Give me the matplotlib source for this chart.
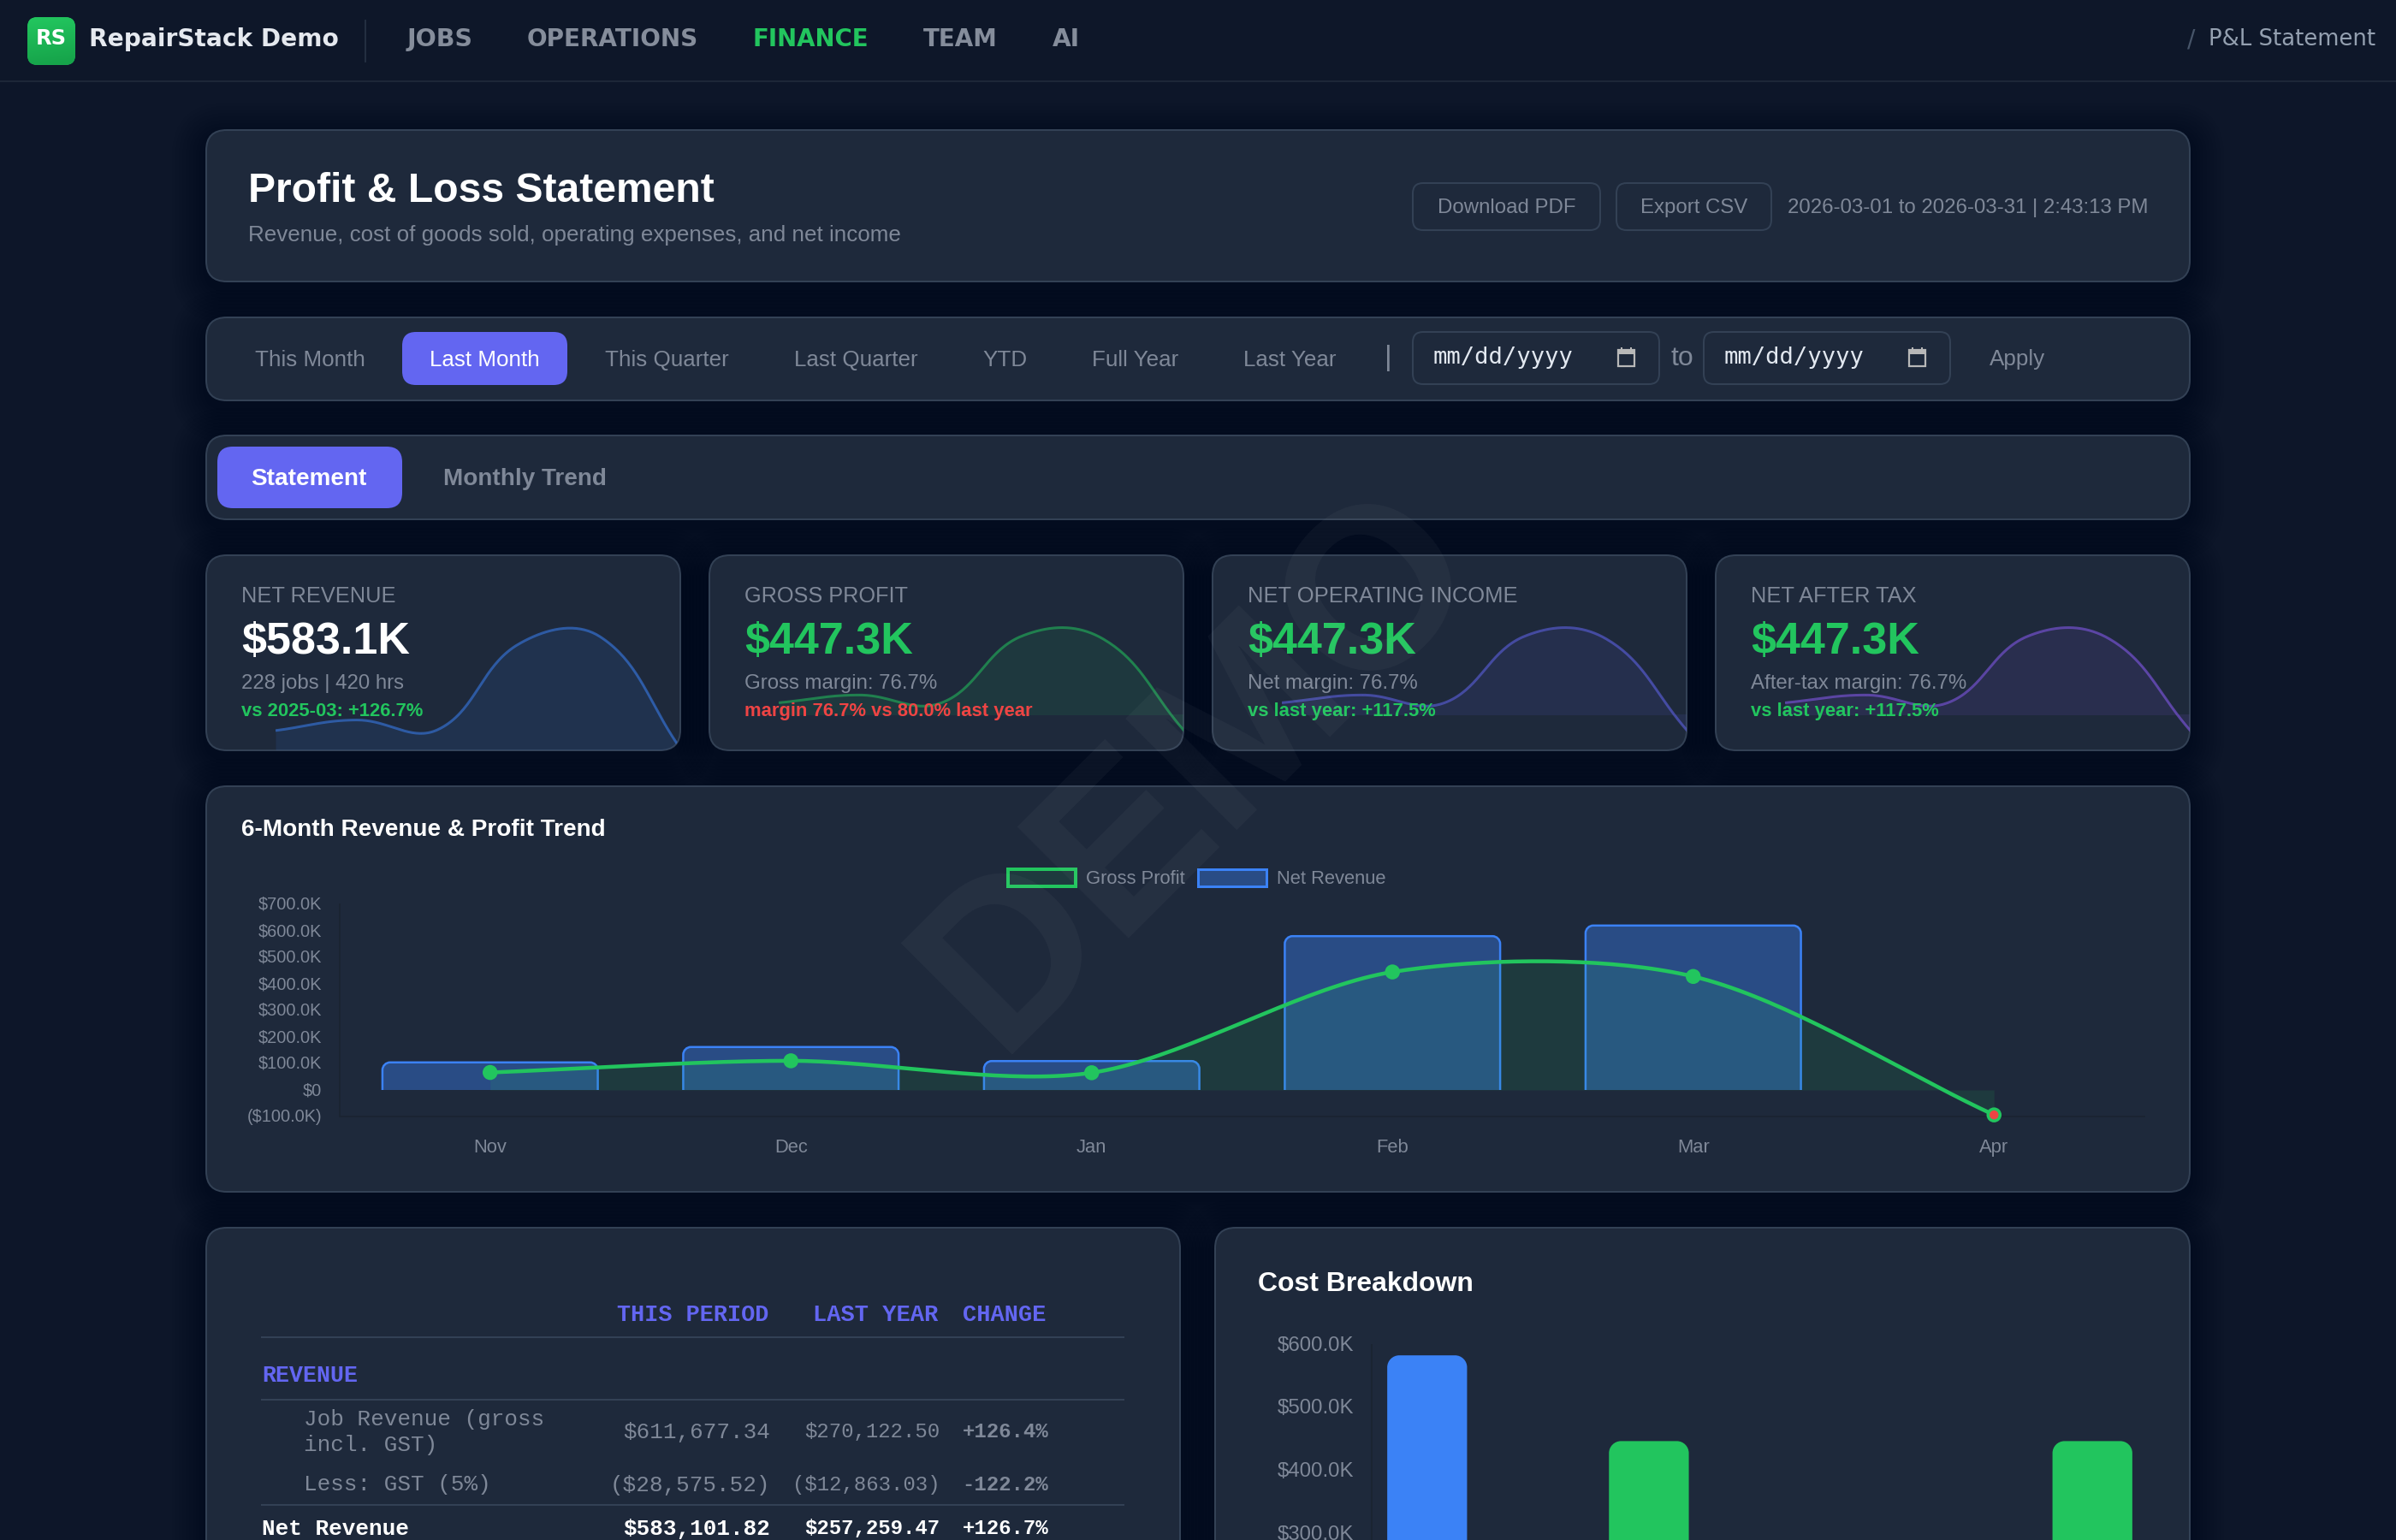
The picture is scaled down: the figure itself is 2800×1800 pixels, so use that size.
import numpy as np
import matplotlib
matplotlib.use("Agg")
import matplotlib.pyplot as plt
from matplotlib.patches import FancyBboxPatch, Rectangle, PathPatch, Patch
from matplotlib.path import Path
from matplotlib.colors import to_rgba, LinearSegmentedColormap
from matplotlib.transforms import ScaledTranslation

plt.rcParams['font.family'] = ['Liberation Sans', 'DejaVu Sans']

# ---------- data ----------
months = ['Nov', 'Dec', 'Jan', 'Feb', 'Mar', 'Apr']
net_revenue = [104, 162, 109, 580, 620, 0]
gross_profit = [66, 110, 65, 445, 428, -94]
trend_ticks = [-100, 0, 100, 200, 300, 400, 500, 600, 700]

cost_labels = ['Net Revenue', 'Gross Profit', 'Operating Expenses', 'Net Income']
cost_values = [583.1, 447.3, 0, 447.3]
cost_ticks = [300, 400, 500, 600]

kpi_labels = ['NET REVENUE', 'GROSS PROFIT', 'NET OPERATING INCOME', 'NET AFTER TAX']
kpi_values = ['$583.1K', '$447.3K', '$447.3K', '$447.3K']
kpi_subs = ['228 jobs | 420 hrs', 'Gross margin: 76.7%', 'Net margin: 76.7%', 'After-tax margin: 76.7%']
kpi_notes = ['vs 2025-03: +126.7%', 'margin 76.7% vs 80.0% last year', 'vs last year: +117.5%', 'vs last year: +117.5%']

nav_items = ['JOBS', 'OPERATIONS', 'FINANCE', 'TEAM', 'AI']
periods = ['This Month', 'Last Month', 'This Quarter', 'Last Quarter', 'YTD', 'Full Year', 'Last Year']

table_head = ['THIS PERIOD', 'LAST YEAR', 'CHANGE']
table_job = ['$611,677.34', '$270,122.50', '+126.4%']
table_gst = ['($28,575.52)', '($12,863.03)', '-122.2%']
table_net = ['$583,101.82', '$257,259.47', '+126.7%']

# ---------- palette ----------
BG = '#0d1629'
PANEL = '#1e293b'
BORDER = '#334155'
MUTED = '#7f8898'
GREEN = '#22c55e'
BLUE = '#3b82f6'
INDIGO = '#6366f1'
VIOLET = '#8b5cf6'
RED = '#ef4444'
AXIS = '#1a2432'
SANS = ['Liberation Sans', 'DejaVu Sans']
DJ = ['DejaVu Sans']
MONO = ['Liberation Mono', 'DejaVu Sans Mono']

W, H = 2800, 1800
fig = plt.figure(figsize=(W / 100, H / 100), dpi=100, facecolor=BG)
renderer = fig.canvas.get_renderer()


def px_axes(zorder):
    a = fig.add_axes([0, 0, 1, 1], zorder=zorder)
    a.set_xlim(0, W)
    a.set_ylim(H, 0)
    a.axis('off')
    a.patch.set_alpha(0)
    return a


def box_axes(x0, y0, x1, y1, zorder=2):
    a = fig.add_axes([x0 / W, 1 - y1 / H, (x1 - x0) / W, (y1 - y0) / H], zorder=zorder)
    a.patch.set_alpha(0)
    return a


ui = px_axes(0)
top = px_axes(5)


def pt(px):
    return px * 0.72


def put(x, y, s, px, color, weight='normal', family=SANS, ha='left', w=None, **kw):
    t = top.text(x, y + 0.08 * px, s, fontsize=pt(px), color=color, fontweight=weight, family=family,
                 ha=ha, va='center', **kw)
    if w is not None:
        cur = t.get_window_extent(renderer).width
        t.set_fontsize(t.get_fontsize() * w / cur)
    return t


def rbox(x0, y0, x1, y1, r, fc, ec='none', lw_px=0, ax=None, z=1):
    p = FancyBboxPatch((x0, y0), x1 - x0, y1 - y0, boxstyle=f'round,pad=0,rounding_size={r}',
                       fc=fc, ec=ec, lw=lw_px * 0.72, zorder=z)
    (ax or ui).add_patch(p)
    return p


def panel(x0, y0, x1, y1, r=24):
    for k in range(1, 11):
        g = k * 4
        rbox(x0 - g, y0 - g + 8, x1 + g, y1 + g + 8, r + g, (0, 0, 0, 0.008), z=1)
    return rbox(x0, y0, x1, y1, r, PANEL, BORDER, 2, z=2)


def spline(xs, ys, sx, sy, t=0.3, n=40):
    """Bezier curve with the control points used by a tension line, in pixel space."""
    P = np.column_stack([np.asarray(xs, float) * sx, np.asarray(ys, float) * sy])
    out = []
    m = len(P)
    cp_prev, cp_next = np.zeros_like(P), np.zeros_like(P)
    for i in range(m):
        a = P[max(i - 1, 0)]
        b = P[i]
        c = P[min(i + 1, m - 1)]
        d01 = np.hypot(*(b - a))
        d12 = np.hypot(*(c - b))
        tot = d01 + d12
        cp_prev[i] = b - t * (d01 / tot) * (c - a)
        cp_next[i] = b + t * (d12 / tot) * (c - a)
    u = np.linspace(0, 1, n)[:, None]
    for i in range(m - 1):
        p0, p1, p2, p3 = P[i], cp_next[i], cp_prev[i + 1], P[i + 1]
        out.append((1 - u) ** 3 * p0 + 3 * (1 - u) ** 2 * u * p1 + 3 * (1 - u) * u ** 2 * p2 + u ** 3 * p3)
    C = np.vstack(out)
    return C[:, 0] / sx, C[:, 1] / sy


def rounded_top(x, w, y0, y1, rx, ry):
    k = 0.55
    verts = [(x, y0), (x, y1 - ry), (x, y1 - ry * (1 - k)), (x + rx * (1 - k), y1), (x + rx, y1),
             (x + w - rx, y1), (x + w - rx * (1 - k), y1), (x + w, y1 - ry * (1 - k)), (x + w, y1 - ry), (x + w, y0)]
    codes = [Path.MOVETO, Path.LINETO, Path.CURVE4, Path.CURVE4, Path.CURVE4,
             Path.LINETO, Path.CURVE4, Path.CURVE4, Path.CURVE4, Path.LINETO]
    return Path(verts, codes)


def style_bars(ax, bars, r_px, sx, sy, fc, ec=None, lw_px=0):
    """Replace each bar from ax.bar with the same bar with rounded top corners."""
    for rect, col in zip(list(bars), fc):
        x, w, y0, h = rect.get_x(), rect.get_width(), rect.get_y(), rect.get_height()
        z = rect.get_zorder()
        rect.remove()
        if h == 0:
            continue
        p = rounded_top(x, w, y0, y0 + h, r_px / sx, r_px / sy)
        ax.add_patch(PathPatch(p, fc=col, ec='none', lw=0, zorder=z))
        if ec:
            ax.add_patch(PathPatch(p, fc='none', ec=ec, lw=lw_px * 0.72, zorder=z + 0.1,
                                   capstyle='butt'))


# ---------- nav ----------
ui.add_patch(Rectangle((0, 0), W, 95, fc='#0e1729', ec='none', zorder=1.5))
ui.plot([0, W], [95, 95], color='#1d2738', lw=2 * 0.72, zorder=1.6)
logo = rbox(32, 20, 88, 76, 12, GREEN, z=3)
cm = LinearSegmentedColormap.from_list('g', [GREEN, '#16a34a'])
im = ui.imshow(np.linspace(0, 1, 64).reshape(8, 8), extent=(32, 88, 76, 20), cmap=cm,
               aspect='auto', zorder=3.1, interpolation='bilinear')
im.set_clip_path(logo)
ui.set_xlim(0, W)
ui.set_ylim(H, 0)
put(60, 43, 'RS', 26, 'white', 'bold', DJ, ha='center', w=36)
put(104, 44, 'RepairStack Demo', 30, '#e5e9ef', 'bold', DJ, w=291)
ui.plot([427, 427], [24, 72], color='#232e40', lw=1.5, zorder=3)
nav_x = [(476, 553), (616, 816), (880, 1016), (1079, 1166), (1230, 1262)]
for name, (a, b) in zip(nav_items, nav_x):
    put(a, 44, name, 26, GREEN if name == 'FINANCE' else '#858d9b', 'bold', DJ, w=b - a)
put(2556, 44, '/', 28, '#475569', family=DJ)
put(2581, 44, 'P&L Statement', 28, '#94a0b0', family=DJ, w=194)

# ---------- header ----------
panel(241, 152, 2559, 329)
put(290, 219, 'Profit & Loss Statement', 52, 'white', 'bold', w=544)
put(290, 273, 'Revenue, cost of goods sold, operating expenses, and net income', 28, MUTED, w=762)
for x0, x1, s in [(1651, 1870, 'Download PDF'), (1889, 2070, 'Export CSV')]:
    rbox(x0, 214, x1, 269, 12, PANEL, BORDER, 2, z=3)
    put((x0 + x1) / 2, 241, s, 24, MUTED, ha='center')
put(2089, 241, '2026-03-01 to 2026-03-31 | 2:43:13 PM', 26, MUTED, w=421)

# ---------- period filter ----------
panel(241, 371, 2559, 468)
rbox(470, 388, 663, 450, 16, INDIGO, z=3)
period_x = [362, 566, 779.5, 1000, 1174, 1327, 1507.5]
for s, x in zip(periods, period_x):
    put(x, 418.5, s, 26, 'white' if s == 'Last Month' else MUTED, ha='center')
put(1622, 416, '|', 34, MUTED, ha='center')
for x0, x1 in [(1651, 1939), (1991, 2279)]:
    rbox(x0, 388, x1, 449, 12, PANEL, BORDER, 2, z=3)
    put(x0 + 23, 416, 'mm/dd/yyyy', 27, '#e2e8f0', family=['DejaVu Sans Mono'], w=164)
    ix = x0 + 240
    top.add_patch(Rectangle((ix, 409), 19, 19, fc='none', ec='#b8b8b8', lw=1.6, zorder=4))
    top.add_patch(Rectangle((ix, 409), 19, 5, fc='#b8b8b8', ec='none', zorder=4))
    top.add_patch(Rectangle((ix + 3, 406), 2, 3, fc='#b8b8b8', ec='none', zorder=4))
    top.add_patch(Rectangle((ix + 14, 406), 2, 3, fc='#b8b8b8', ec='none', zorder=4))
put(1965.5, 416, 'to', 32, MUTED, ha='center')
put(2358, 418, 'Apply', 26, MUTED, ha='center')

# ---------- tabs ----------
panel(241, 509, 2559, 607)
rbox(254, 522, 470, 594, 18, INDIGO, z=3)
put(361, 558, 'Statement', 29, 'white', 'bold', ha='center', w=135)
put(518, 558, 'Monthly Trend', 29, MUTED, 'bold', w=191)

# ---------- KPI cards ----------
cards = [(241, 795), (829, 1383), (1417, 1971), (2005, 2559)]
spark_cols = [BLUE, GREEN, INDIGO, VIOLET]
spark_data = [net_revenue, gross_profit, gross_profit, gross_profit]
label_w = [180, 191, 314.5, 193.6]
value_cols = ['white', GREEN, GREEN, GREEN]
note_cols = [GREEN, RED, GREEN, GREEN]
CARD_T, CARD_B = 649, 877
for i, (x0, x1) in enumerate(cards):
    card = panel(x0, CARD_T, x1, CARD_B)
    ax0, ax1 = x0 + 81, x1 + 1
    a = box_axes(ax0, CARD_T, ax1, CARD_B, zorder=2)
    a.axis('off')
    a.set_xlim(0, 5)
    if i == 0:
        sy, zero_y = 0.2127, 876
    else:
        sy, zero_y = 0.206, 835
    a.set_ylim((zero_y - CARD_B) / sy, (zero_y - CARD_T) / sy)
    sx = (ax1 - ax0) / 5
    xs, ys = spline(range(6), spark_data[i], sx, sy, t=0.4)
    f = a.fill_between(xs, ys, 0, color=spark_cols[i], alpha=0.10, lw=0)
    l, = a.plot(xs, ys, color=spark_cols[i], alpha=0.55, lw=pt(3), solid_capstyle='butt')
    f.set_clip_path(card)
    l.set_clip_path(card)
    tx = x0 + 41 + (0.5 if i else 0)
    put(tx, 695, kpi_labels[i], 26, MUTED, w=label_w[i])
    put(tx, 746, kpi_values[i], 52, value_cols[i], 'bold', w=197)
    put(tx, 797, kpi_subs[i], 24, MUTED)
    put(tx, 830, kpi_notes[i], 22, note_cols[i], 'bold')

# ---------- trend chart ----------
panel(241, 919, 2559, 1393)
put(282, 968, '6-Month Revenue & Profit Trend', 30, 'white', 'bold', w=425)
AX_L, AX_R, AX_T, AX_B = 397, 2506, 1057, 1305
tr = box_axes(AX_L, AX_T, AX_R, AX_B)
tr.set_xlim(-0.5, 5.5)
tr.set_ylim(-100, 700)
sx = (AX_R - AX_L) / 6
sy = (AX_B - AX_T) / 800
x_idx = np.arange(len(months))
bars = tr.bar(x_idx, net_revenue, width=0.716, zorder=2)
style_bars(tr, bars, 9, sx, sy, [to_rgba(BLUE, 0.40)] * 6, BLUE, 2.5)
cx, cy = spline(x_idx, gross_profit, sx, sy)
tr.fill_between(cx, cy, 0, color=GREEN, alpha=0.11, lw=0, zorder=3)
tr.plot(cx, cy, color=GREEN, lw=pt(4.5), zorder=4, solid_capstyle='round')
point_fc = [RED if v < 0 else GREEN for v in gross_profit]
tr.scatter(x_idx, gross_profit, s=pt(14) ** 2, c=point_fc, edgecolors=GREEN, linewidths=pt(3.5),
           zorder=5, clip_on=False)
tr.set_xticks(x_idx, months)
tr.set_yticks(trend_ticks)
tr.set_yticklabels([f'${v:.1f}K' if v > 0 else ('$0' if v == 0 else f'(${-v:.1f}K)') for v in trend_ticks])
tr.tick_params(axis='x', length=0, pad=pt(26), labelsize=pt(22), labelcolor=MUTED)
tr.tick_params(axis='y', length=0, pad=pt(21), labelsize=pt(20), labelcolor=MUTED)
nudge = ScaledTranslation(0, 1.5 / 100, fig.dpi_scale_trans)
for lab in tr.get_yticklabels():
    lab.set_transform(lab.get_transform() + nudge)
for s in ['top', 'right']:
    tr.spines[s].set_visible(False)
for s in ['left', 'bottom']:
    tr.spines[s].set_color(AXIS)
    tr.spines[s].set_linewidth(pt(2))
handles = [Patch(fc=to_rgba(GREEN, 0.11), ec=GREEN, lw=pt(4), label='Gross Profit'),
           Patch(fc=to_rgba(BLUE, 0.40), ec=BLUE, lw=pt(3), label='Net Revenue')]
leg = tr.legend(handles=handles, ncols=2, frameon=False, fontsize=pt(22), handlelength=3.6, handleheight=1.05,
                handletextpad=0.55, columnspacing=0.7, borderpad=0, borderaxespad=0, loc='center',
                bbox_to_anchor=(1398.5 / W, 1 - 1027 / H), bbox_transform=fig.transFigure, labelcolor=MUTED)

# ---------- statement table ----------
panel(241, 1435, 1379, 1900)
LINE = '#334155'
for y in (1563, 1636, 1759):
    ui.plot([306, 1313], [y, y], color=LINE, lw=pt(2), zorder=3)
RIGHT = [900, 1098, 1225]
head_w = [177, 146, 97]
for s, r, w in zip(table_head, RIGHT, head_w):
    put(r - 2, 1535, s, 24, INDIGO, 'bold', MONO, ha='right', w=w)
put(306, 1606, 'REVENUE', 26, INDIGO, 'bold', MONO, w=112)
put(355, 1657, 'Job Revenue (gross', 26, MUTED, family=MONO)
put(355, 1687, 'incl. GST)', 26, MUTED, family=MONO)
put(355, 1733, 'Less: GST (5%)', 26, MUTED, family=MONO)
put(306, 1785, 'Net Revenue', 26, 'white', 'bold', MONO)
for row, y, c in [(table_job, 1672, MUTED), (table_gst, 1734, MUTED), (table_net, 1785, 'white')]:
    bold = c == 'white'
    put(RIGHT[0], y, row[0], 26, c, 'bold' if bold else 'normal', MONO, ha='right')
    put(RIGHT[1], y, row[1], 24, c, 'bold' if bold else 'normal', MONO, ha='right')
    put(RIGHT[2], y, row[2], 24, c, 'bold', MONO, ha='right')

# ---------- cost breakdown ----------
panel(1420, 1435, 2559, 1900)
put(1470, 1498, 'Cost Breakdown', 34, 'white', 'bold', w=253)
C_L, C_R, C_T, C_B = 1603, 2510, 1571.7, 1800
co = box_axes(C_L, C_T, C_R, C_B)
co.set_xlim(-0.25, 3.25)
y_per_k = 0.738
co.set_ylim(600 - (C_B - C_T) / y_per_k, 600)
csx = (C_R - C_L) / 3.5
cbars = co.bar(range(4), cost_values, width=0.36, zorder=2)
style_bars(co, cbars, 14, csx, y_per_k, [BLUE, GREEN, RED, GREEN])
co.set_yticks(cost_ticks)
co.set_yticklabels([f'${v:.1f}K' for v in cost_ticks])
co.set_xticks([])
co.tick_params(axis='y', length=0, pad=pt(21), labelsize=pt(24), labelcolor=MUTED)
nudge_cost = ScaledTranslation(0, 1.5 / 100, fig.dpi_scale_trans)
for lab in co.get_yticklabels():
    lab.set_transform(lab.get_transform() + nudge_cost)
for s in ['top', 'right', 'bottom']:
    co.spines[s].set_visible(False)
co.spines['left'].set_color(AXIS)
co.spines['left'].set_linewidth(pt(2))

# ---------- watermark ----------
wm = fig.text(0.5, 0.5, 'DEMO', rotation=45, rotation_mode='anchor', ha='center', va='center',
              fontsize=pt(268), fontweight='bold', color='white', alpha=0.04, zorder=20, family=SANS)

fig.savefig('out.png', dpi=100, facecolor=BG)
